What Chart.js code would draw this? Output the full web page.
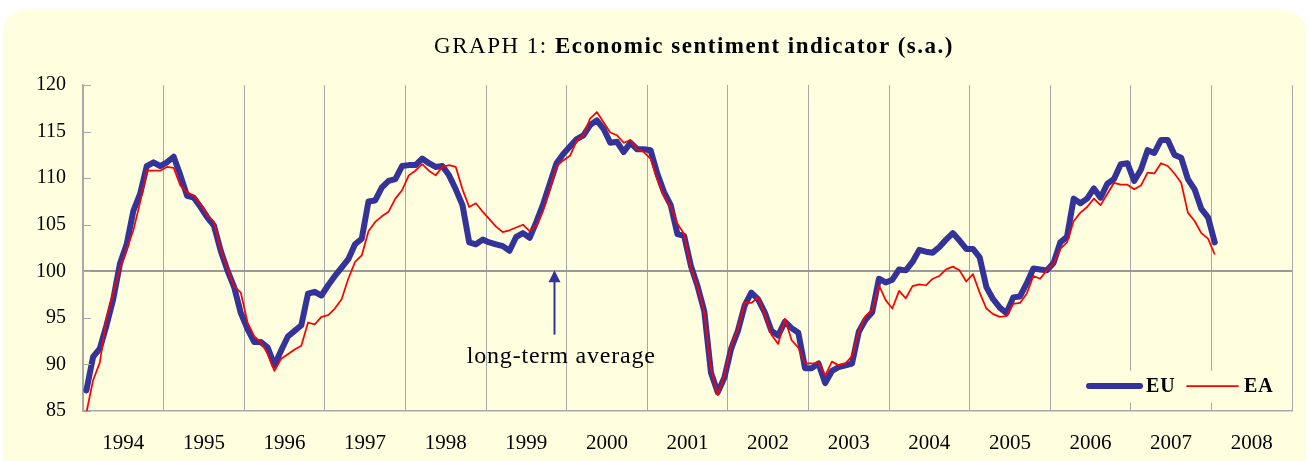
<!DOCTYPE html>
<html>
<head>
<meta charset="utf-8">
<script src="https://cdn.jsdelivr.net/npm/chart.js@4.4.1/dist/chart.umd.min.js"></script>
<style>
  html, body { margin: 0; padding: 0; background: #ffffff; overflow: hidden; }
  #frame {
    position: absolute; left: 3px; top: 10px; width: 1303px; height: 470px;
    background: #ffffe0; border-radius: 22px;
  }
  #wrap { position: absolute; left: 0; top: 0; width: 1310px; height: 461px; }
  #title {
    position: absolute; left: 694px; top: 32px; transform: translateX(-50%);
    white-space: nowrap; font-family: "Liberation Serif", "Times New Roman", serif;
    font-size: 23px; letter-spacing: 1.5px; color: #000; line-height: 28px;
  }
</style>
</head>
<body>
<div id="frame"></div>
<div id="wrap"><canvas id="esi"></canvas></div>
<div id="title">GRAPH 1: <b>Economic sentiment indicator (s.a.)</b></div>
<script>
// year labels, one per 12 months, series start January 1994
const years = ['1994', '1995', '1996', '1997', '1998', '1999', '2000', '2001',
               '2002', '2003', '2004', '2005', '2006', '2007', '2008'];

const euValues = [
  87.2, 90.8, 91.7, 94.2, 97.0, 100.8, 102.9, 106.5, 108.3, 111.3, 111.7, 111.3,   // 1994
  111.7, 112.3, 110.3, 108.1, 107.9, 106.9, 105.8, 104.9, 102.2, 100.1, 98.3, 95.5, // 1995
  93.8, 92.4, 92.4, 91.8, 89.9, 91.5, 93.0, 93.6, 94.2, 97.6, 97.8, 97.4,           // 1996
  98.5, 99.5, 100.4, 101.3, 102.9, 103.5, 107.5, 107.6, 109.0, 109.7, 109.9, 111.3, // 1997
  111.4, 111.4, 112.1, 111.6, 111.2, 111.3, 110.3, 108.8, 107.1, 103.1, 102.9, 103.4, // 1998
  103.1, 102.9, 102.7, 102.2, 103.7, 104.1, 103.6, 105.3, 107.2, 109.4, 111.6, 112.6, // 1999
  113.4, 114.2, 114.6, 115.7, 116.2, 115.3, 113.8, 113.9, 112.8, 113.8, 113.1, 113.1, // 2000
  113.0, 110.5, 108.5, 107.1, 104.0, 103.8, 100.6, 98.4, 95.7, 89.1, 87.0, 88.6,    // 2001
  91.7, 93.6, 96.3, 97.7, 97.0, 95.6, 93.6, 93.1, 94.6, 93.9, 93.4, 89.6,           // 2002
  89.6, 90.1, 88.0, 89.3, 89.7, 89.9, 90.1, 93.5, 94.8, 95.6, 99.2, 98.8,           // 2003
  99.1, 100.2, 100.1, 101.0, 102.3, 102.1, 102.0, 102.6, 103.4, 104.1, 103.3, 102.4, // 2004
  102.4, 101.5, 98.3, 97.0, 96.1, 95.5, 97.2, 97.3, 98.7, 100.3, 100.2, 100.1,      // 2005
  100.9, 103.1, 103.7, 107.8, 107.3, 107.8, 108.9, 107.9, 109.4, 109.9, 111.5, 111.6, // 2006
  109.7, 110.9, 113.0, 112.7, 114.1, 114.1, 112.5, 112.2, 109.9, 108.8, 106.7, 105.8, // 2007
  103.1                                                                             // 2008
];

const eaValues = [
  84.8, 88.3, 90.2, 94.9, 97.7, 100.3, 102.4, 104.4, 107.4, 110.8, 110.8, 110.8,    // 1994
  111.2, 111.1, 109.2, 108.5, 108.1, 107.2, 106.0, 105.3, 102.4, 100.3, 98.4, 97.7, // 1995
  94.5, 93.0, 92.4, 91.1, 89.3, 90.6, 91.1, 91.6, 92.0, 94.5, 94.3, 95.1,           // 1996
  95.3, 96.0, 97.0, 99.2, 101.0, 101.7, 104.3, 105.3, 105.9, 106.4, 107.8, 108.7,   // 1997
  110.3, 110.8, 111.5, 110.8, 110.3, 111.2, 111.4, 111.2, 108.8, 106.9, 107.3, 106.4, // 1998
  105.6, 104.8, 104.2, 104.4, 104.7, 105.0, 104.3, 104.9, 106.5, 108.8, 111.3, 111.9, // 1999
  112.4, 114.0, 114.6, 116.4, 117.1, 116.0, 114.9, 114.6, 113.8, 114.1, 113.1, 112.8, // 2000
  112.1, 109.9, 108.1, 106.9, 105.1, 104.0, 100.3, 98.4, 95.6, 89.5, 86.7, 88.8,    // 2001
  92.0, 93.8, 96.6, 96.6, 97.2, 95.4, 93.2, 92.2, 94.9, 92.6, 91.8, 90.1,           // 2002
  90.1, 90.2, 88.8, 90.3, 89.9, 90.1, 90.9, 93.5, 95.2, 95.8, 98.5, 96.9,           // 2003
  96.0, 97.9, 97.1, 98.4, 98.6, 98.5, 99.2, 99.5, 100.2, 100.5, 100.1, 98.9,        // 2004
  99.7, 97.7, 96.0, 95.4, 95.1, 95.2, 96.5, 96.6, 97.6, 99.5, 99.2, 100.1,          // 2005
  100.8, 102.4, 103.1, 105.4, 106.3, 106.9, 107.8, 107.1, 108.3, 109.5, 109.3, 109.3, // 2006
  108.8, 109.2, 110.6, 110.5, 111.6, 111.3, 110.5, 109.5, 106.3, 105.4, 104.1, 103.5, // 2007
  101.8                                                                             // 2008
];

const yTicks = [85, 90, 95, 100, 105, 110, 115, 120];
const longTermAverage = 100;

const serif = '"Liberation Serif", "Times New Roman", serif';
const euColor = '#333399';
const eaColor = '#ff0000';
const gridColor = '#a8a8a8';
const bgColor = '#ffffe0';

// monthly points sit in the middle of their month slot
function toPoints(values) {
    return values.map((v, i) => ({ x: i + 0.5, y: v }));
}

// arrow + "long-term average" text, small inward ticks on y axis, legend box
const extras = {
    id: 'extras',
    afterDatasetsDraw(chart) {
        const { ctx, scales } = chart;
        const x = scales.x, y = scales.y;
        ctx.save();

        // inward tick marks on the value axis
        ctx.strokeStyle = gridColor;
        ctx.lineWidth = 1;
        yTicks.forEach(t => {
            const py = Math.round(y.getPixelForValue(t)) + 0.5;
            ctx.beginPath();
            ctx.moveTo(x.left, py);
            ctx.lineTo(x.left + 8, py);
            ctx.stroke();
        });

        // arrow pointing at the average line
        const ax = x.getPixelForValue(70.2);
        const tipY = y.getPixelForValue(longTermAverage) - 1;
        ctx.strokeStyle = euColor;
        ctx.fillStyle = euColor;
        ctx.lineWidth = 2;
        ctx.beginPath();
        ctx.moveTo(ax, tipY + 10);
        ctx.lineTo(ax, y.getPixelForValue(93.2));
        ctx.stroke();
        ctx.beginPath();
        ctx.moveTo(ax, tipY);
        ctx.lineTo(ax - 6, tipY + 12);
        ctx.lineTo(ax + 6, tipY + 12);
        ctx.closePath();
        ctx.fill();

        ctx.fillStyle = '#000';
        ctx.font = '24px ' + serif;
        ctx.letterSpacing = '0.8px';
        ctx.textAlign = 'center';
        ctx.textBaseline = 'alphabetic';
        ctx.fillText('long-term average', x.getPixelForValue(71.2), y.getPixelForValue(90.2));

        // legend in the lower right corner of the plot
        const ly = 386;
        ctx.fillStyle = bgColor;
        ctx.fillRect(1078, 371, 212, 32);
        ctx.lineCap = 'round';
        ctx.strokeStyle = euColor;
        ctx.lineWidth = 6;
        ctx.beginPath();
        ctx.moveTo(1089, ly);
        ctx.lineTo(1140, ly);
        ctx.stroke();
        ctx.strokeStyle = eaColor;
        ctx.lineWidth = 1.75;
        ctx.beginPath();
        ctx.moveTo(1187, ly);
        ctx.lineTo(1238, ly);
        ctx.stroke();
        ctx.fillStyle = '#000';
        ctx.font = 'bold 20px ' + serif;
        ctx.letterSpacing = '1px';
        ctx.textAlign = 'left';
        ctx.textBaseline = 'middle';
        ctx.fillText('EU', 1146, ly + 1);
        ctx.fillText('EA', 1244, ly + 1);
        ctx.restore();
    }
};

new Chart(document.getElementById('esi'), {
    type: 'line',
    data: {
        datasets: [
            {
                label: 'EU',
                data: toPoints(euValues),
                borderColor: euColor,
                borderWidth: 6,
                borderJoinStyle: 'round',
                borderCapStyle: 'round',
                pointRadius: 0,
                tension: 0,
                order: 2
            },
            {
                label: 'EA',
                data: toPoints(eaValues),
                borderColor: eaColor,
                borderWidth: 1.75,
                borderJoinStyle: 'round',
                pointRadius: 0,
                tension: 0,
                order: 1
            }
        ]
    },
    options: {
        responsive: true,
        maintainAspectRatio: false,
        animation: false,
        events: [],
        layout: { padding: { top: 85, right: 18, bottom: 0, left: 0 } },
        plugins: {
            legend: { display: false },
            title: { display: false },
            tooltip: { enabled: false }
        },
        scales: {
            x: {
                type: 'linear',
                position: 'bottom',
                weight: 0,
                min: 0,
                max: years.length * 12,
                ticks: { display: false, stepSize: 12 },
                grid: { color: gridColor, lineWidth: 1, drawTicks: false },
                border: { color: gridColor, width: 1.5 },
                afterFit: s => { s.height = 0; }
            },
            xYears: {
                type: 'linear',
                position: 'bottom',
                weight: 1,
                min: 0,
                max: years.length * 12,
                grid: { display: false, drawTicks: false },
                border: { display: false },
                afterBuildTicks: axis => {
                    axis.ticks = years.map((_, k) => ({ value: 6 + 12 * k }));
                },
                ticks: {
                    autoSkip: false,
                    maxRotation: 0,
                    padding: 20,
                    color: '#000',
                    font: { family: serif, size: 21 },
                    callback: v => years[Math.round((v - 6) / 12)]
                },
                afterFit: s => { s.height = 50; }
            },
            y: {
                type: 'linear',
                min: 85,
                max: 120,
                afterBuildTicks: axis => {
                    axis.ticks = yTicks.map(v => ({ value: v }));
                },
                ticks: {
                    padding: 17,
                    color: '#000',
                    font: { family: serif, size: 20 }
                },
                grid: {
                    drawTicks: false,
                    color: c => c.tick && c.tick.value === longTermAverage ? '#999999' : 'rgba(0,0,0,0)',
                    lineWidth: c => c.tick && c.tick.value === longTermAverage ? 2 : 1
                },
                border: { color: gridColor, width: 1.5 },
                afterFit: s => { s.width = 83; }
            }
        }
    },
    plugins: [extras]
});
</script>
</body>
</html>
